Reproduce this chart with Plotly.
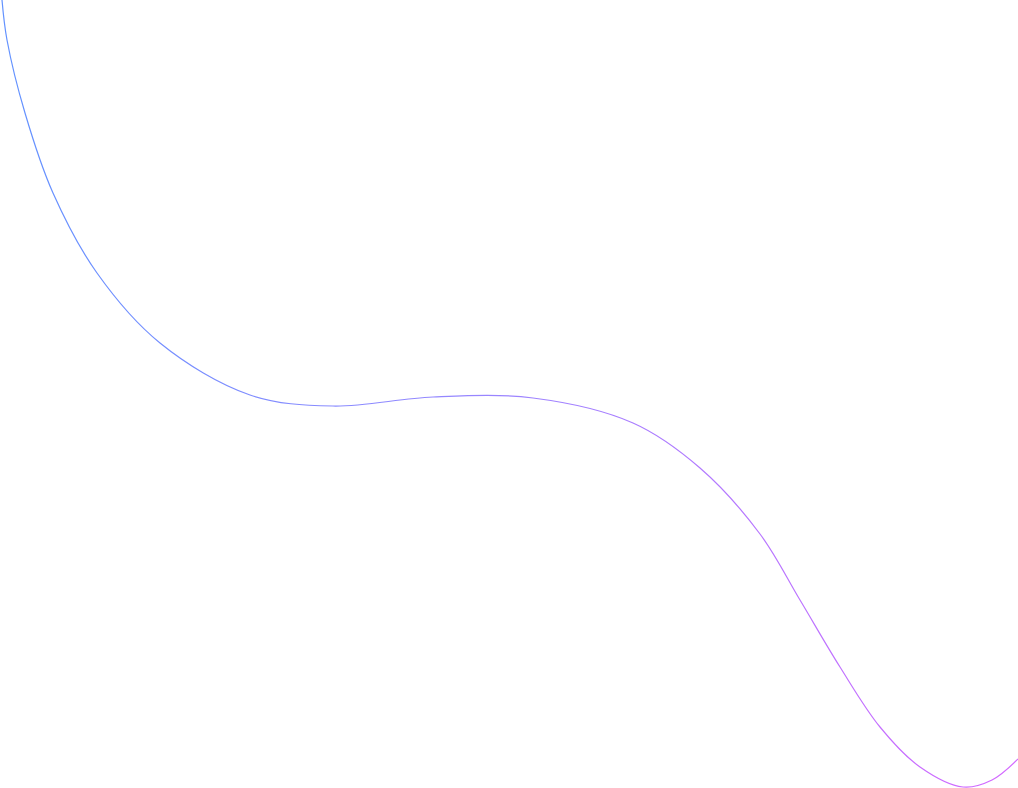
import plotly.graph_objects as go

# Points (x to the right, y downward, in screen-like units)
curve_x = [2, 7, 25, 53, 97, 160, 250, 333, 433, 533, 633, 700, 760, 800, 840, 880, 920, 963, 992, 1018]
curve_y = [0, 40, 113, 193, 273, 343, 395, 406, 397, 398, 423, 468, 534, 600, 667, 727, 767, 787, 780, 759]

# Gradient colours along the curve (left -> right)
grad_stops = [(0.0, "rgb(98,146,255)"), (0.45, "rgb(150,135,255)"), (1.0, "rgb(212,104,255)")]

fig = go.Figure(go.Scatter(
    x=curve_x, y=curve_y, mode="lines",
    line=dict(shape="spline", smoothing=1.0, width=1.2, color="rgb(150,135,255)"),
    hoverinfo="skip", showlegend=False))

fig.update_layout(
    width=1018, height=788,
    margin=dict(l=0, r=0, t=0, b=0),
    paper_bgcolor="white", plot_bgcolor="white",
    xaxis=dict(range=[0, 1018], visible=False, fixedrange=True),
    yaxis=dict(range=[788, 0], visible=False, fixedrange=True),
)

stops_js = ",".join("[%g,'%s']" % (o, c) for o, c in grad_stops)
post = """
document.body.style.margin = '0';
document.body.style.overflow = 'hidden';
var gd = document.getElementById('{plot_id}');
var svg = gd.querySelector('.main-svg');
var ns = 'http://www.w3.org/2000/svg';
var defs = svg.querySelector('defs');
var lg = document.createElementNS(ns, 'linearGradient');
lg.setAttribute('id', 'curveGrad');
lg.setAttribute('gradientUnits', 'userSpaceOnUse');
lg.setAttribute('x1', '0'); lg.setAttribute('y1', '0');
lg.setAttribute('x2', '1018'); lg.setAttribute('y2', '0');
var stops = [STOPS];
stops.forEach(function(s) {
  var st = document.createElementNS(ns, 'stop');
  st.setAttribute('offset', s[0]);
  st.setAttribute('stop-color', s[1]);
  lg.appendChild(st);
});
defs.appendChild(lg);
gd.querySelectorAll('.scatterlayer path.js-line').forEach(function(p) {
  p.style.stroke = 'url(#curveGrad)';
});
""".replace("STOPS", stops_js)

fig.write_html("out.html", post_script=post, config={"displayModeBar": False})
